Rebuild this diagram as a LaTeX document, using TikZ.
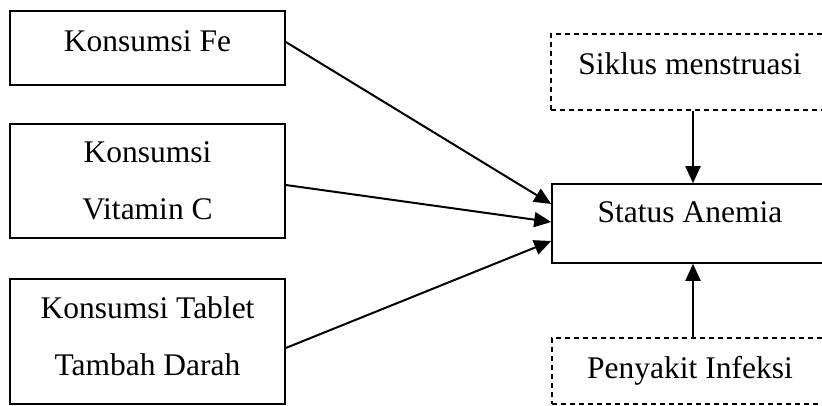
\documentclass[tikz,border=0pt]{standalone}
\usepackage{fontspec}
\setmainfont{Liberation Serif}
\usetikzlibrary{arrows.meta}
\begin{document}
\begin{tikzpicture}[x=1pt,y=-1pt,
  solidbox/.style={draw=black, line width=1.6pt, rectangle, inner sep=0pt},
  dashbox/.style={draw=black, line width=1.3pt, dash pattern=on 5pt off 4pt, rectangle, inner sep=0pt},
  lbl/.style={anchor=base, inner sep=0pt, font=\fontsize{31.5}{38}\selectfont},
  arr/.style={line width=2pt, -{Triangle[length=17pt,width=15pt]}}]
\useasboundingbox (0,0) rectangle (822,406);
% boxes
\node[solidbox, minimum width=275pt, minimum height=74pt] (fe) at (147.5,48) {};
\node[solidbox, minimum width=275pt, minimum height=114pt] (vc) at (147.5,181) {};
\node[solidbox, minimum width=275pt, minimum height=125pt] (ttd) at (147.5,341.5) {};
\node[dashbox, minimum width=300pt, minimum height=76pt] (sm) at (701,72) {};
\node[solidbox, minimum width=300pt, minimum height=79pt] (sa) at (702,223.5) {};
\node[dashbox, minimum width=300pt, minimum height=66pt] (pi) at (702,371) {};
% labels
\node[lbl] (tfe) at (147.5,52) {Konsumsi Fe};
\node[lbl] (tvc1) at (147.5,163) {Konsumsi};
\node[lbl] (tvc2) at (147.5,220) {Vitamin C};
\node[lbl] (tttd1) at (147.5,318) {Konsumsi Tablet};
\node[lbl] (tttd2) at (147.5,375) {Tambah Darah};
\node[lbl] (tsm) at (690,75) {Siklus menstruasi};
\node[lbl] (tsa) at (690,223) {Status Anemia};
\node[lbl] (tpi) at (690,378) {Penyakit Infeksi};
% connector endpoints
\coordinate (e1) at (sa.west |- 0,204);
\coordinate (e2) at (sa.west |- 0,222);
\coordinate (e3) at (sa.west |- 0,241);
\draw[arr] (fe.east |- 0,42) -- (e1);
\draw[arr] (vc.east |- 0,185) -- (e2);
\draw[arr] (ttd.east |- 0,348) -- (e3);
\draw[arr] (sm.south -| 693,0) -- (sa.north -| 693,0);
\draw[arr] (pi.north -| 693,0) -- (sa.south -| 693,0);
\end{tikzpicture}
\end{document}
